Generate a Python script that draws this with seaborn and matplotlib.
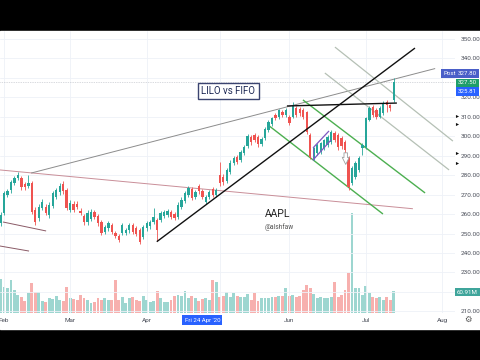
import numpy as np
import pandas as pd
import matplotlib
matplotlib.use("Agg")
import matplotlib.pyplot as plt
import matplotlib.transforms as mtrans
from matplotlib.patches import Rectangle
import seaborn as sns

# ---------------- data ----------------
opens = [255.4, 260.5, 269.7, 272.3, 275.9, 278.5, 278.5, 275.4, 274.4, 275.9,
         262.1, 257.9, 263.1, 263.6, 259.5, 264.1, 268.7, 271.3, 275.4, 272.3,
         262.1, 265.1, 265.1, 261.5, 259.0, 255.9, 257.4, 261.0, 259.0, 255.9,
         250.8, 252.8, 254.4, 250.3, 248.7, 250.3, 250.3, 251.8, 254.4, 252.8,
         251.8, 248.2, 252.8, 253.8, 255.9, 256.9, 256.9, 259.0, 259.5, 261.0,
         260.0, 258.5, 263.6, 266.7, 269.7, 272.8, 268.7, 274.4, 271.8, 266.2,
         268.7, 272.8, 269.7, 280.0, 279.0, 276.9, 281.5, 286.2, 289.2, 287.7,
         291.3, 294.9, 299.5, 300.5, 299.5, 295.9, 299.0, 303.1, 306.2, 310.8,
         309.7, 312.3, 310.8, 309.7, 309.7, 314.4, 313.8, 313.3, 312.3, 300.5,
         288.7, 291.3, 291.8, 293.8, 295.4, 296.9, 301.5, 300.5, 299.0, 296.9,
         288.7, 275.9, 279.0, 282.6, 293.8, 294.4, 308.2, 314.9, 313.3, 309.7,
         311.8, 317.4, 315.9, 318.5]
closes = [259.5, 270.8, 271.8, 276.4, 278.5, 280.0, 273.8, 273.8, 275.9, 261.0,
          255.9, 263.6, 266.2, 260.5, 264.6, 270.8, 272.3, 274.4, 271.8, 263.1,
          265.6, 262.1, 263.6, 260.5, 255.9, 260.5, 261.0, 258.5, 255.4, 250.3,
          253.3, 255.4, 250.8, 248.7, 246.7, 254.4, 251.8, 254.4, 250.8, 249.7,
          245.6, 253.3, 255.4, 255.9, 258.5, 251.8, 260.5, 261.0, 261.5, 258.5,
          257.9, 264.6, 267.2, 270.8, 273.3, 268.2, 271.3, 271.8, 268.7, 268.7,
          271.3, 269.7, 272.3, 275.9, 276.4, 282.6, 286.2, 288.7, 286.7, 291.8,
          294.4, 300.0, 296.9, 297.9, 295.9, 298.5, 303.6, 307.2, 309.2, 309.2,
          313.3, 310.8, 313.3, 306.7, 315.9, 310.8, 311.8, 309.7, 302.1, 289.2,
          293.8, 295.4, 296.4, 297.9, 299.5, 302.1, 297.9, 294.4, 294.9, 292.8,
          273.8, 283.6, 286.2, 288.7, 295.4, 309.2, 314.4, 310.8, 309.7, 314.4,
          316.9, 315.9, 314.4, 327.5]
highs = [261, 272, 273, 277.5, 279.5, 281.5, 279.5, 276.5, 280, 277,
         263.5, 265, 267.5, 265, 266, 272, 273.5, 276, 277, 273.5,
         267, 266.5, 266.5, 263, 260, 262, 262.5, 262, 260, 257,
         254.5, 256.5, 255.5, 251.5, 249.5, 255.5, 253, 255.5, 255.5, 254,
         253, 254.5, 256.5, 257, 263, 258, 261.5, 262, 262.5, 262,
         261, 266, 268.5, 272, 274.5, 274, 272.5, 275.5, 273, 270,
         272.5, 274, 273.5, 286.7, 280.5, 283.5, 287.5, 289.5, 290.5, 293,
         295.5, 301, 300.5, 301.5, 300.5, 299.5, 304.5, 308, 310, 312,
         314, 313.5, 314.5, 311, 317.4, 315.5, 315, 314.5, 313, 301.5,
         294.5, 296.5, 297, 298.5, 300.5, 303, 302.5, 301.5, 300, 298,
         290, 284.5, 287, 289.5, 296.4, 310, 315.5, 316, 314.5, 315.5,
         318, 318.5, 316.5, 329.7]
lows = [254, 259.5, 268.5, 271, 275, 277.5, 272.5, 272.5, 273.5, 260,
        254.5, 256.5, 262, 259.5, 258, 263, 267.5, 270, 270.5, 262,
        261, 261, 262.5, 259.5, 254.5, 254.5, 256.5, 257.5, 254, 249,
        249.5, 251.5, 249.5, 247.5, 245.5, 249, 249, 250.5, 249.5, 248.5,
        244.5, 247, 251.5, 252.5, 255, 246.2, 256, 258, 258.5, 257.5,
        257, 257.5, 262.5, 265.5, 268.5, 267, 267.5, 270.5, 267.5, 265,
        267.5, 268.5, 268.5, 274.5, 275, 276, 280.5, 285, 285.5, 286.5,
        290.5, 294, 295.5, 297, 294.5, 295, 298, 302, 305, 308,
        308.5, 309.5, 309.5, 305.5, 309, 309.5, 310.5, 308.5, 301, 288,
        287.5, 290.5, 291, 293, 294.5, 296, 297, 293, 293.5, 291.5,
        272.3, 275, 278, 281.5, 290.3, 293.5, 307.5, 310, 308.5, 309,
        311, 312.3, 313, 317.5]
volumes = [94, 72, 69, 91, 64, 50, 44, 33, 55, 83, 58, 58, 33, 30, 42, 39, 47, 36, 33, 72,
           42, 39, 36, 50, 42, 36, 28, 30, 42, 36, 42, 36, 36, 91, 36, 44, 28, 42, 44, 36,
           33, 47, 36, 30, 33, 61, 42, 30, 30, 36, 47, 50, 47, 61, 42, 47, 42, 33, 39, 42,
           36, 91, 86, 44, 47, 58, 44, 55, 47, 44, 44, 53, 36, 55, 33, 42, 42, 42, 44, 44,
           47, 47, 69, 47, 50, 44, 47, 64, 78, 69, 53, 42, 44, 42, 42, 44, 86, 44, 50, 64,
           111, 277, 69, 69, 50, 75, 55, 44, 42, 44, 36, 44, 36, 60.91]

month_labels = ["Feb", "Mar", "Apr", "", "Jun", "Jul", "Aug"]
month_index = [1, 20, 42, 63, 83, 105, 127]
price_ticks = list(range(210, 351, 10))
hidden_ticks = [220, 330]   # covered by price tags in the reference

# drawings: (start index, start price, end index, end price)
black_up = (44.9, 245.8, 119.1, 345.1)
black_flat = (82.3, 315.4, 113.9, 316.9)
gray_up = (8.8, 281.0, 124.9, 334.6)
pink_down = (-0.2, 282.6, 118.5, 262.7)
left_a = (0.7, 255.9, 13.1, 251.3)
left_b = (-0.2, 243.6, 8.2, 241.0)
green_a = (86.9, 318.5, 122.0, 270.8)
green_b = (76.9, 305.6, 109.9, 260.0)
gray_ch_a = (96.1, 345.6, 130.0, 297.4)
gray_ch_b = (93.2, 332.3, 128.9, 282.6)
purple_lo = (89.8, 287.7, 95.0, 298.0)
purple_hi = (89.8, 293.9, 94.4, 302.6)

# ---------------- figure ----------------
sns.set_style("white")
plt.rcParams['font.family'] = ['Roboto', 'DejaVu Sans']

W, H = 480, 360
fig = plt.figure(figsize=(4.8, 3.6), dpi=100, facecolor='black')
fig.patches.append(Rectangle((0, 1 - 329 / H), 1, (329 - 31) / H,
                             transform=fig.transFigure, facecolor='white', zorder=-5))

rect = [0, 1 - 313 / H, 455 / W, (313 - 31) / H]
xmin, xmax = -0.15, 130.6
ymin, ymax = 209.23, 353.85

axv = fig.add_axes(rect)
ax = fig.add_axes(rect)
axv.set_zorder(1)
ax.set_zorder(2)

o = np.array(opens); c = np.array(closes)
hi = np.array(highs); lo = np.array(lows)
n = len(c)
idx = np.arange(n)
up = c >= o

# volume (seaborn)
vdf = pd.DataFrame({'i': idx, 'vol': volumes, 'dir': np.where(up, 'up', 'down')})
sns.barplot(data=vdf, x='i', y='vol', hue='dir',
            palette={'up': '#9dd6d0', 'down': '#f7b0ae'},
            native_scale=True, dodge=False, width=0.82, saturation=1,
            errorbar=None, legend=False, linewidth=0, ax=axv)
axv.set_xlim(xmin, xmax)
axv.set_ylim(0, 781)
axv.axis('off')

# price axis
ax.patch.set_alpha(0)
ax.set_xlim(xmin, xmax)
ax.set_ylim(ymin, ymax)
for s in ax.spines.values():
    s.set_visible(False)
ax.yaxis.tick_right()
ax.set_yticks(price_ticks)
ax.set_yticklabels(["" if v in hidden_ticks else f"{v:.2f}" for v in price_ticks])
ax.tick_params(axis='y', length=0, pad=4, labelsize=4.6, labelcolor='#4a4e59')
ax.set_xticks(month_index)
ax.set_xticklabels(month_labels)
ax.tick_params(axis='x', length=0, pad=3.5, labelsize=4.6, labelcolor='#4a4e59')
ax.grid(True, color='#eef1f7', lw=0.6)
ax.set_axisbelow(True)

# drawings
def seg(line, **kw):
    ax.plot([line[0], line[2]], [line[1], line[3]], solid_capstyle='butt', **kw)

seg(pink_down, color='#c98e98', lw=0.7, zorder=2)
seg(left_a, color='#8a5a66', lw=0.7, zorder=2)
seg(left_b, color='#8a5a66', lw=0.7, zorder=2)
seg(gray_up, color='#8c8c8c', lw=0.7, zorder=2)
seg(gray_ch_a, color='#b5c0b5', lw=0.9, zorder=2)
seg(gray_ch_b, color='#b5c0b5', lw=0.9, zorder=2)
seg(green_a, color='#4caf50', lw=1.0, zorder=2)
seg(green_b, color='#4caf50', lw=1.0, zorder=2)
seg(purple_lo, color='#7e57c2', lw=0.9, zorder=5)
seg(purple_hi, color='#7e57c2', lw=0.9, zorder=5)
ax.plot([purple_lo[0], purple_hi[0]], [purple_lo[1], purple_hi[1]], color='#7e57c2', lw=0.6, zorder=5)
seg(black_up, color='#111111', lw=1.0, zorder=6)
seg(black_flat, color='#111111', lw=1.0, zorder=6)

# last price line
ax.axhline(c[-1], color='#b2b5be', lw=0.5, ls=(0, (1, 1.5)), zorder=1)

# candles
col = np.where(up, '#26a69a', '#ef5350')
ax.vlines(idx, lo, hi, colors=col, lw=0.6, zorder=3)
body = np.maximum(np.abs(c - o), 0.35)
ax.bar(idx, body, bottom=np.minimum(o, c), width=0.66, color=col, linewidth=0, zorder=4)

# gray marker arrow
ax.annotate('', xy=(99.2, 284.0), xytext=(99.2, 292.8),
            arrowprops=dict(arrowstyle='simple,head_width=0.5,tail_width=0.25',
                            fc='white', ec='#9e9e9e', lw=0.6), zorder=5)

# texts
ax.text(65.4, 323.1, "LILO vs FIFO", ha='center', va='center', fontsize=7,
        color='#1f2a55', zorder=8,
        bbox=dict(boxstyle='square,pad=0.35', fc='white', ec='#3b4470', lw=1.0))
ax.text(76.0, 260.0, "AAPL", ha='left', va='center', fontsize=7.5, color='#222222', zorder=8)
ax.text(76.0, 253.3, "@alshfaw", ha='left', va='center', fontsize=4.8, color='#555555', zorder=8)

# date tag on x axis
trx = mtrans.blended_transform_factory(ax.transData, ax.transAxes)
ax.text(58, -0.025, "Fri 24 Apr '20", transform=trx, ha='center', va='center',
        fontsize=4.4, color='white', zorder=10, clip_on=False,
        bbox=dict(boxstyle='square,pad=0.35', fc='#2962ff', ec='none'))

# right price tags
def tag(px, py, s, fc):
    fig.text(px / W, 1 - py / H, s, ha='center', va='center', fontsize=4.4, color='white',
             zorder=10, bbox=dict(boxstyle='square,pad=0.3', fc=fc, ec='none'))

tag(449.5, 73.5, "Post", '#4a5fc8')
tag(467.5, 73.5, "327.80", '#4a5fc8')
tag(467.5, 83.0, "327.50", '#1e9e6a')
tag(467.5, 91.5, "325.81", '#2962ff')
tag(467.5, 292, "60.91M", '#3fa59b')

# small markers on price scale
tr_r = mtrans.blended_transform_factory(ax.transAxes, ax.transData)
ax.scatter([1.0045] * 4, [310.3, 306.2, 291.3, 286.2], marker='>', s=5, color='#111111',
           transform=tr_r, clip_on=False, zorder=10, linewidths=0)

fig.text(468 / W, 1 - 320 / H, "\u2699", ha='center', va='center', fontsize=6, color='#555555')

fig.savefig('out.png', dpi=100, facecolor='black')
